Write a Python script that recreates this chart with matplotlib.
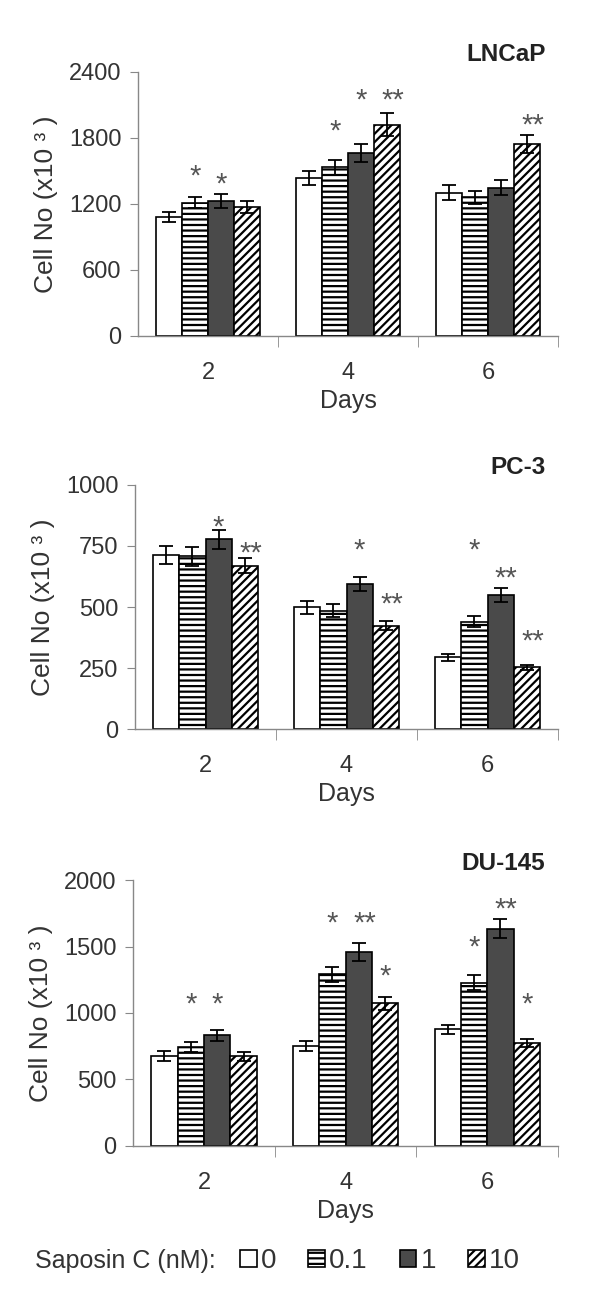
import matplotlib
matplotlib.use("Agg")
import matplotlib.pyplot as plt
import matplotlib.patches as mpatches
import numpy as np

plt.rcParams['font.family'] = ['Liberation Sans', 'DejaVu Sans']
plt.rcParams['hatch.linewidth'] = 1.6

days = ['2', '4', '6']
doses = ['0', '0.1', '1', '10']
S1 = '*'
S2 = '**'

# LNCaP: mean and error per dose (rows) for days 2, 4, 6
lncap_mean = [[1082, 1434, 1303],
              [1209, 1533, 1260],
              [1229, 1667, 1349],
              [1171, 1922, 1744]]
lncap_err = [[48, 62, 66],
             [50, 70, 62],
             [62, 82, 66],
             [55, 105, 82]]
lncap_stars = [['', '', ''], [S1, S1, ''], [S1, S1, ''], ['', S2, S2]]
lncap_star_y = [[0, 0, 0], [1450, 1860, 0], [1380, 2140, 0], [0, 2140, 1910]]

# PC-3
pc3_mean = [[712, 499, 294],
            [708, 485, 440],
            [777, 594, 550],
            [669, 424, 253]]
pc3_err = [[36, 26, 15],
           [38, 27, 22],
           [38, 30, 28],
           [31, 20, 10]]
pc3_stars = [['', '', ''], ['', '', S1], [S1, S1, S2], [S2, S2, S2]]
pc3_star_y = [[0, 0, 0], [0, 0, 730], [825, 730, 615], [720, 510, 360]]

# DU-145
du_mean = [[677, 751, 876],
           [744, 1291, 1229],
           [831, 1458, 1634],
           [674, 1072, 774]]
du_err = [[36, 35, 36],
          [36, 56, 57],
          [42, 70, 72],
          [32, 50, 27]]
du_stars = [['', '', ''], [S1, S1, S1], [S1, S2, S2], ['', S1, S1]]
du_star_y = [[0, 0, 0], [1060, 1675, 1490], [1060, 1675, 1775], [0, 1275, 1065]]

panels = [
    ('LNCaP', lncap_mean, lncap_err, lncap_stars, lncap_star_y, 2400, [0, 600, 1200, 1800, 2400]),
    ('PC-3', pc3_mean, pc3_err, pc3_stars, pc3_star_y, 1000, [0, 250, 500, 750, 1000]),
    ('DU-145', du_mean, du_err, du_stars, du_star_y, 2000, [0, 500, 1000, 1500, 2000]),
]

# bar styles for each dose
face = ['white', 'white', '#4a4a4a', 'white']
hatch = [None, '---', None, '////']

fig = plt.figure(figsize=(6, 13.16), dpi=100)
# axes boxes [left, bottom, width, height]
boxes = [[0.230, 0.7447, 0.700, 0.2006],
         [0.225, 0.4460, 0.705, 0.1855],
         [0.222, 0.1292, 0.708, 0.2021]]

gray = '#888888'
txt = '#333333'
x = np.arange(len(days))
w = 0.186

for (name, mean, err, stars, star_y, ymax, yticks), box in zip(panels, boxes):
    ax = fig.add_axes(box)
    for i in range(len(doses)):
        pos = x + (i - 1.5) * w
        ax.bar(pos, mean[i], w, yerr=err[i], color=face[i], hatch=hatch[i],
               edgecolor='black', linewidth=1.2, capsize=5,
               error_kw=dict(elinewidth=1.3, capthick=1.3, ecolor='black'), zorder=2)
        for j in range(len(days)):
            if stars[i][j]:
                # double stars sit a little right of the bar, as in the figure
                dx = 0.04 if len(stars[i][j]) > 1 else 0
                ax.text(pos[j] + dx, star_y[i][j], stars[i][j], ha='center', va='center',
                        fontsize=21, color='#555555')
    ax.set_xlim(-0.5, 2.5)
    ax.set_ylim(0, ymax)
    ax.set_yticks(yticks)
    ax.set_xticks(x)
    ax.set_xticklabels(days)
    ax.set_xticks([0.5, 1.5, 2.5], minor=True)
    ax.tick_params(axis='x', which='major', length=0, pad=19, labelsize=17, labelcolor=txt)
    ax.tick_params(axis='x', which='minor', length=8, direction='out', color=gray)
    ax.tick_params(axis='y', length=6, color=gray, labelsize=17, labelcolor=txt, pad=6)
    for s in ['top', 'right']:
        ax.spines[s].set_visible(False)
    for s in ['left', 'bottom']:
        ax.spines[s].set_color(gray)
        ax.spines[s].set_linewidth(1.0)
    ax.set_ylabel('Cell No (x10 \u00b3 )', fontsize=19, color=txt, labelpad=8)
    ax.set_xlabel('Days', fontsize=18, color=txt, labelpad=3)
    ax.annotate(name, xy=(0.97, 1.0), xycoords='axes fraction', xytext=(0, 17),
                textcoords='offset pixels', ha='right', va='center',
                fontsize=17.5, fontweight='bold', color='#222222')

# legend at the bottom
fig.text(0.058, 0.0415, 'Saposin C (nM):', fontsize=18, color=txt, va='center')
handles = [mpatches.Patch(facecolor=face[i], hatch=hatch[i], edgecolor='black', linewidth=1.2)
           for i in range(len(doses))]
fig.legend(handles, doses, loc='center left', bbox_to_anchor=(0.40, 0.0415), ncol=4,
           frameon=False, fontsize=20, handlelength=0.6, handleheight=0.6,
           handletextpad=0.15, columnspacing=1.15, borderpad=0, borderaxespad=0,
           labelcolor=txt)

fig.savefig('out.png', dpi=100, facecolor='white')
